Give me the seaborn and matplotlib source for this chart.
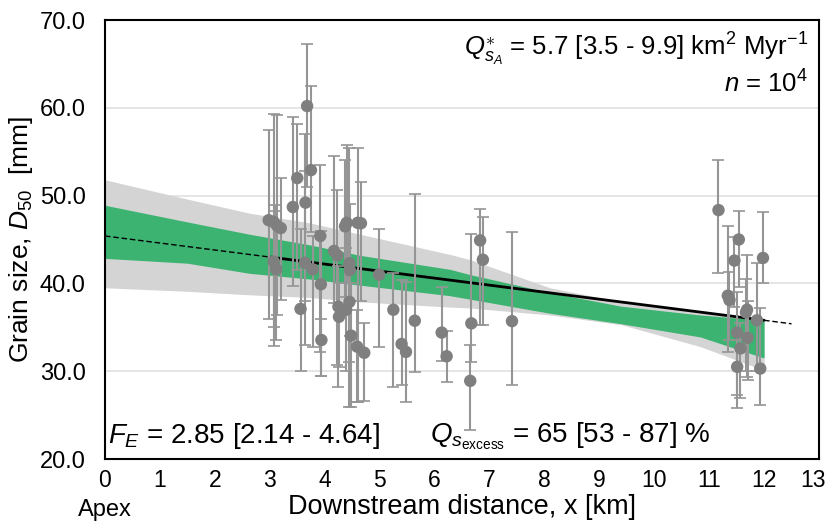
import numpy as np
import pandas as pd
import matplotlib
matplotlib.use("Agg")
import matplotlib.pyplot as plt
import matplotlib.transforms as mtransforms
import seaborn as sns

# ---------------- data ----------------
dist_km = [2.98, 3.07, 3.13, 3.20, 3.07, 3.12, 3.42, 3.50, 3.65, 3.68, 3.75, 3.64, 3.56, 3.78,
           3.92, 3.93, 3.94, 4.17, 4.23, 4.25, 4.26, 4.37, 4.40, 4.45, 4.46, 4.45, 4.39, 4.48,
           4.60, 4.66, 4.59, 4.72, 4.99, 5.25, 5.40, 5.48, 5.64, 6.13, 6.22, 6.65, 6.67, 6.83,
           6.88, 7.41,
           11.17, 11.34, 11.37, 11.46, 11.54, 11.51, 11.57, 11.51, 11.69, 11.70, 11.67, 11.87,
           11.93, 11.98]
d50_mm = [47.2, 47.0, 46.6, 46.3, 42.5, 41.6, 48.7, 52.0, 49.2, 60.2, 52.9, 42.35, 37.1, 41.6,
          45.4, 39.9, 33.55, 43.7, 43.2, 37.35, 36.2, 46.5, 46.9, 42.3, 41.5, 37.9, 37.0, 34.05,
          46.9, 46.85, 32.8, 32.1, 41.0, 37.0, 33.1, 32.2, 35.75, 34.4, 31.7, 28.9, 35.45, 44.9,
          42.7, 35.7,
          48.35, 38.6, 38.1, 42.6, 45.0, 34.4, 32.6, 30.5, 37.0, 33.8, 36.7, 35.8,
          30.3, 42.9]
d50_low = [36.0, 32.9, 36.4, 38.1, 35.0, 33.5, 39.7, 41.5, 38.0, 51.0, 45.9, 33.0, 30.05, 32.8,
           32.2, 29.4, 29.4, 37.8, 30.7, 28.2, 30.5, 38.5, 40.0, 25.9, 34.0, 31.0, 30.0, 25.9,
           26.5, 38.0, 26.5, 26.6, 32.8, 28.2, 28.4, 26.5, 29.9, 31.2, 28.8, 23.3, 31.0, 35.3,
           35.3, 28.4,
           41.2, 32.2, 33.5, 37.3, 39.6, 27.3, 27.0, 25.8, 29.3, 29.0, 30.0, 30.0,
           26.1, 40.0]
d50_high = [57.5, 59.3, 59.2, 52.0, 48.3, 48.9, 58.9, 58.2, 57.0, 67.3, 62.5, 52.8, 46.2, 45.4,
            53.5, 46.0, 36.0, 54.5, 50.6, 42.0, 40.0, 54.1, 55.8, 55.4, 49.0, 47.0, 44.0, 40.0,
            55.4, 51.5, 37.0, 35.5, 46.2, 41.2, 40.4, 40.2, 50.2, 39.6, 34.6, 33.0, 45.6, 48.5,
            47.6, 45.8,
            54.1, 46.5, 41.3, 45.3, 48.3, 39.0, 35.5, 33.5, 43.2, 38.0, 40.5, 42.3,
            37.2, 48.1]

# model envelopes
band_x   = [0.0, 1.5, 2.63, 3.72, 4.64, 6.28, 6.65, 8.1, 9.4, 10.84, 12.0]
gray_hi  = [51.8, 49.6, 48.0, 46.9, 45.6, 43.3, 42.7, 39.5, 37.9, 36.8, 35.9]
gray_lo  = [39.5, 39.1, 38.7, 38.4, 37.9, 37.3, 37.2, 36.4, 35.3, 32.8, 30.1]
green_hi = [48.9, 47.0, 45.6, 44.4, 43.2, 41.6, 41.0, 38.95, 37.4, 36.4, 35.8]
green_lo = [42.85, 42.3, 41.15, 40.5, 39.8, 38.6, 38.2, 36.6, 35.4, 33.9, 31.5]

# best-fit trend (dashed outside the data range)
trend_x = [0.0, 3.0, 12.0, 12.5]
trend_y = [45.4, 43.0, 35.8, 35.4]

x_ticks = list(range(0, 14))
y_ticks = [20, 30, 40, 50, 60, 70]

# ---------------- style ----------------
sns.set_style("white")
plt.rcParams["font.family"] = ["Liberation Sans", "DejaVu Sans"]
plt.rcParams["mathtext.fontset"] = "custom"
plt.rcParams["mathtext.rm"] = "Liberation Sans"
plt.rcParams["mathtext.it"] = "Liberation Sans:italic"
plt.rcParams["mathtext.bf"] = "Liberation Sans:bold"
plt.rcParams["mathtext.sf"] = "Liberation Sans"
for key in ["text.color", "axes.labelcolor", "xtick.color", "ytick.color"]:
    plt.rcParams[key] = "black"

fig = plt.figure(figsize=(8.29, 5.25), dpi=100)
ax = fig.add_axes([105 / 829, 1 - 459 / 525, (819 - 105) / 829, (459 - 20) / 525])

df = pd.DataFrame({"x": dist_km, "y": d50_mm, "lo": d50_low, "hi": d50_high})

# grid
for yt in y_ticks[1:-1]:
    ax.axhline(yt, color="#e3e3e3", lw=1.3, zorder=0)

# envelopes
ax.fill_between(band_x, gray_lo, gray_hi, color="#d4d4d4", lw=0, zorder=1)
ax.fill_between(band_x, green_lo, green_hi, color="#3cb371", lw=0, zorder=2)

# trend line
ax.plot(trend_x[:2], trend_y[:2], color="black", lw=1.0, ls=(0, (4, 2)), zorder=3)
sns.lineplot(x=trend_x[1:3], y=trend_y[1:3], color="black", lw=2.0, ax=ax, zorder=3)
ax.plot(trend_x[2:], trend_y[2:], color="black", lw=1.0, ls=(0, (4, 2)), zorder=3)

# error bars
yerr = np.array([df["y"] - df["lo"], df["hi"] - df["y"]])
ax.errorbar(df["x"], df["y"], yerr=yerr, fmt="none", ecolor="#959595",
            elinewidth=1.5, capsize=4, capthick=1.2, zorder=4)

# points
sns.scatterplot(data=df, x="x", y="y", color="#7f7f7f", s=80, edgecolor="none",
                linewidth=0, ax=ax, zorder=5, legend=False)

ax.set_xlim(0, 13)
ax.set_ylim(20, 70)
ax.set_xticks(x_ticks)
ax.set_xticklabels([str(t) for t in x_ticks])
ax.set_yticks(y_ticks)
ax.set_yticklabels([f"{t:.1f}" for t in y_ticks])
ax.tick_params(axis="x", direction="inout", length=8, width=1.3, labelsize=16.5, pad=3)
ax.tick_params(axis="y", direction="out", length=8, width=1.3, labelsize=17, pad=6)
for sp in ax.spines.values():
    sp.set_color("black")
    sp.set_linewidth(1.5)

# keep the last x tick label inside the canvas
last_lbl = ax.get_xticklabels()[-1]
last_lbl.set_transform(last_lbl.get_transform() +
                       mtransforms.ScaledTranslation(-4 / 72, 0, fig.dpi_scale_trans))

ax.set_xlabel("Downstream distance, x [km]", fontsize=19.5, labelpad=2)
ax.set_ylabel(r"Grain size, $D_{50}$  [mm]", fontsize=19, labelpad=3)

fig.text(105 / 829, 1 - 510 / 525, "Apex", fontsize=17, ha="center", va="center")

ax.text(0.985, 0.975, r"$Q_{s_A}^{\ast}$ = 5.7 [3.5 - 9.9] km$^{2}$ Myr$^{-1}$",
        transform=ax.transAxes, ha="right", va="top", fontsize=18.5)
ax.text(0.985, 0.885, r"$n$ = 10$^{4}$", transform=ax.transAxes, ha="right", va="top",
        fontsize=18.5)
ax.text(0.004, 0.052, r"$F_E$ = 2.85 [2.14 - 4.64]",
        transform=ax.transAxes, ha="left", va="center", fontsize=20)
ax.text(0.455, 0.052, r"$Q_{s_{\mathrm{excess}}}$ = 65 [53 - 87] %",
        transform=ax.transAxes, ha="left", va="center", fontsize=20)

fig.savefig("out.png", dpi=100)
